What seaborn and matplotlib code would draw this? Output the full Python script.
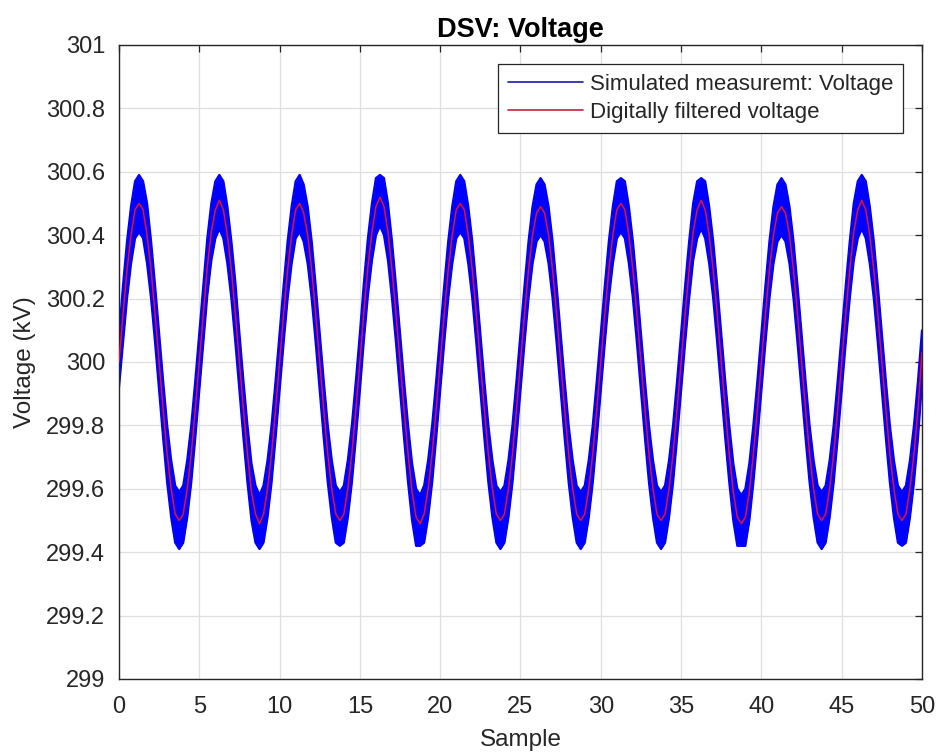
import numpy as np
import matplotlib
matplotlib.use("Agg")
import matplotlib.pyplot as plt
from matplotlib.lines import Line2D
import seaborn as sns

# Sample axis: 0 .. 50 in steps of 0.25
sample = np.linspace(0, 50, 201)

# Digitally filtered voltage (kV), one row per 5-sample period
filtered_voltage = [
    300.00, 300.15, 300.29, 300.40, 300.48, 300.50, 300.48, 300.40, 300.29, 300.15, 300.00, 299.85, 299.71, 299.60, 299.52, 299.50, 299.52, 299.60, 299.71, 299.85,
    300.00, 300.15, 300.30, 300.41, 300.48, 300.51, 300.48, 300.40, 300.29, 300.15, 300.00, 299.85, 299.71, 299.59, 299.52, 299.49, 299.52, 299.60, 299.71, 299.85,
    300.00, 300.15, 300.29, 300.40, 300.48, 300.50, 300.47, 300.40, 300.29, 300.15, 300.00, 299.85, 299.71, 299.60, 299.52, 299.50, 299.52, 299.60, 299.71, 299.85,
    300.00, 300.16, 300.30, 300.41, 300.49, 300.52, 300.49, 300.41, 300.29, 300.15, 300.00, 299.85, 299.71, 299.59, 299.51, 299.49, 299.52, 299.60, 299.71, 299.85,
    300.00, 300.15, 300.29, 300.40, 300.48, 300.50, 300.48, 300.40, 300.29, 300.15, 300.00, 299.85, 299.71, 299.60, 299.52, 299.50, 299.52, 299.60, 299.71, 299.85,
    300.00, 300.15, 300.29, 300.40, 300.47, 300.49, 300.47, 300.40, 300.29, 300.15, 300.00, 299.85, 299.71, 299.60, 299.52, 299.50, 299.52, 299.60, 299.71, 299.85,
    300.00, 300.15, 300.29, 300.40, 300.48, 300.50, 300.48, 300.40, 300.29, 300.15, 300.00, 299.85, 299.71, 299.60, 299.52, 299.50, 299.52, 299.60, 299.71, 299.85,
    300.00, 300.15, 300.29, 300.41, 300.48, 300.51, 300.48, 300.40, 300.29, 300.15, 300.00, 299.85, 299.71, 299.59, 299.51, 299.49, 299.51, 299.59, 299.71, 299.85,
    300.00, 300.15, 300.29, 300.40, 300.47, 300.49, 300.47, 300.40, 300.29, 300.15, 300.00, 299.85, 299.71, 299.60, 299.52, 299.50, 299.52, 299.60, 299.71, 299.85,
    300.00, 300.15, 300.29, 300.41, 300.48, 300.51, 300.48, 300.40, 300.29, 300.15, 300.00, 299.85, 299.71, 299.60, 299.52, 299.50, 299.52, 299.60, 299.71, 299.85,
    300.03,
]

# Upper and lower extent of the noisy simulated measurement (kV)
measured_upper = [
    300.08, 300.24, 300.38, 300.49, 300.57, 300.59, 300.57, 300.50, 300.38, 300.24, 300.09, 299.94, 299.80, 299.69, 299.61, 299.59, 299.61, 299.69, 299.80, 299.94,
    300.09, 300.24, 300.39, 300.50, 300.57, 300.59, 300.57, 300.49, 300.38, 300.25, 300.09, 299.94, 299.80, 299.68, 299.61, 299.58, 299.61, 299.69, 299.80, 299.94,
    300.09, 300.24, 300.38, 300.49, 300.57, 300.59, 300.56, 300.49, 300.38, 300.24, 300.09, 299.94, 299.80, 299.69, 299.61, 299.59, 299.61, 299.69, 299.80, 299.94,
    300.09, 300.25, 300.39, 300.50, 300.58, 300.59, 300.58, 300.50, 300.38, 300.24, 300.09, 299.94, 299.80, 299.68, 299.60, 299.58, 299.61, 299.69, 299.80, 299.94,
    300.09, 300.24, 300.38, 300.49, 300.57, 300.59, 300.57, 300.49, 300.38, 300.24, 300.09, 299.94, 299.80, 299.69, 299.61, 299.59, 299.61, 299.69, 299.80, 299.94,
    300.09, 300.24, 300.38, 300.49, 300.56, 300.58, 300.56, 300.49, 300.38, 300.24, 300.09, 299.94, 299.80, 299.69, 299.61, 299.59, 299.61, 299.69, 299.80, 299.94,
    300.09, 300.24, 300.38, 300.49, 300.57, 300.58, 300.57, 300.49, 300.38, 300.24, 300.09, 299.94, 299.80, 299.69, 299.61, 299.59, 299.61, 299.69, 299.80, 299.94,
    300.09, 300.24, 300.38, 300.50, 300.57, 300.58, 300.57, 300.49, 300.38, 300.24, 300.09, 299.94, 299.80, 299.68, 299.60, 299.58, 299.60, 299.68, 299.80, 299.94,
    300.09, 300.24, 300.38, 300.49, 300.56, 300.58, 300.56, 300.49, 300.38, 300.24, 300.09, 299.94, 299.80, 299.69, 299.61, 299.59, 299.61, 299.69, 299.80, 299.94,
    300.09, 300.24, 300.38, 300.50, 300.57, 300.59, 300.57, 300.49, 300.38, 300.24, 300.09, 299.94, 299.80, 299.69, 299.61, 299.59, 299.61, 299.69, 299.80, 299.94,
    300.10,
]

measured_lower = [
    299.92, 300.06, 300.20, 300.31, 300.39, 300.41, 300.39, 300.31, 300.20, 300.06, 299.91, 299.76, 299.62, 299.51, 299.43, 299.41, 299.43, 299.51, 299.62, 299.76,
    299.91, 300.06, 300.21, 300.32, 300.39, 300.42, 300.39, 300.31, 300.20, 300.06, 299.91, 299.76, 299.62, 299.50, 299.43, 299.41, 299.43, 299.51, 299.62, 299.76,
    299.91, 300.06, 300.20, 300.31, 300.39, 300.41, 300.38, 300.31, 300.20, 300.06, 299.91, 299.76, 299.62, 299.51, 299.43, 299.42, 299.43, 299.51, 299.62, 299.76,
    299.91, 300.07, 300.21, 300.32, 300.40, 300.43, 300.40, 300.32, 300.20, 300.06, 299.91, 299.76, 299.62, 299.50, 299.42, 299.42, 299.43, 299.51, 299.62, 299.76,
    299.91, 300.06, 300.20, 300.31, 300.39, 300.41, 300.39, 300.31, 300.20, 300.06, 299.91, 299.76, 299.62, 299.51, 299.43, 299.41, 299.43, 299.51, 299.62, 299.76,
    299.91, 300.06, 300.20, 300.31, 300.38, 300.40, 300.38, 300.31, 300.20, 300.06, 299.91, 299.76, 299.62, 299.51, 299.43, 299.41, 299.43, 299.51, 299.62, 299.76,
    299.91, 300.06, 300.20, 300.31, 300.39, 300.41, 300.39, 300.31, 300.20, 300.06, 299.91, 299.76, 299.62, 299.51, 299.43, 299.41, 299.43, 299.51, 299.62, 299.76,
    299.91, 300.06, 300.20, 300.32, 300.39, 300.42, 300.39, 300.31, 300.20, 300.06, 299.91, 299.76, 299.62, 299.50, 299.42, 299.42, 299.42, 299.50, 299.62, 299.76,
    299.91, 300.06, 300.20, 300.31, 300.38, 300.40, 300.38, 300.31, 300.20, 300.06, 299.91, 299.76, 299.62, 299.51, 299.43, 299.41, 299.43, 299.51, 299.62, 299.76,
    299.91, 300.06, 300.20, 300.32, 300.39, 300.42, 300.39, 300.31, 300.20, 300.06, 299.91, 299.76, 299.62, 299.51, 299.43, 299.42, 299.43, 299.51, 299.62, 299.76,
    299.94,
]

x_ticks = [0, 5, 10, 15, 20, 25, 30, 35, 40, 45, 50]
y_ticks = [299, 299.2, 299.4, 299.6, 299.8, 300, 300.2, 300.4, 300.6, 300.8, 301]
y_tick_labels = ["299", "299.2", "299.4", "299.6", "299.8", "300",
                 "300.2", "300.4", "300.6", "300.8", "301"]

series_labels = ["Simulated measuremt: Voltage", "Digitally filtered voltage"]

sns.set_style("white")
plt.rcParams["font.family"] = ["Liberation Sans", "DejaVu Sans"]

ink = "#262626"
blue = "#0000ff"
red = "#e8102a"

fig = plt.figure(figsize=(9.39, 7.56), dpi=100)
ax = fig.add_axes([0.1267, 0.1019, 0.8552, 0.8386])

# Noisy measurement drawn as a dense band between its extremes
ax.fill_between(sample, measured_lower, measured_upper, color=blue, linewidth=0, zorder=2)
sns.lineplot(x=sample, y=measured_upper, color=blue, linewidth=1.6, ax=ax, zorder=2)
sns.lineplot(x=sample, y=measured_lower, color=blue, linewidth=1.6, ax=ax, zorder=2)

# Filtered voltage on top
sns.lineplot(x=sample, y=filtered_voltage, color=red, linewidth=1.1, ax=ax, zorder=3)

ax.set_xlim(0, 50)
ax.set_ylim(299, 301)
ax.set_xticks(x_ticks)
ax.set_yticks(y_ticks)
ax.set_yticklabels(y_tick_labels)

ax.grid(True, color="#dfdfdf", linewidth=0.9)
ax.set_axisbelow(True)

for side in ["left", "right", "top", "bottom"]:
    ax.spines[side].set_visible(True)
    ax.spines[side].set_color(ink)
    ax.spines[side].set_linewidth(1.0)

ax.tick_params(axis="both", which="major", direction="in", length=5, width=0.9,
               top=True, right=True, labelsize=17, colors=ink)
ax.tick_params(axis="y", pad=10)
ax.tick_params(axis="x", pad=12)

ax.set_title("DSV: Voltage", fontsize=19.5, fontweight="bold", color="black", pad=6)
ax.set_xlabel("Sample", fontsize=17.5, color=ink, labelpad=8)
ax.set_ylabel("Voltage (kV)", fontsize=17.5, color=ink, labelpad=7)

handles = [Line2D([0], [0], color="#1a1aa8", linewidth=1.2),
           Line2D([0], [0], color="#c8203a", linewidth=1.2)]
leg = ax.legend(handles, series_labels, loc="upper right", fontsize=16,
                frameon=True, fancybox=False, framealpha=1, edgecolor=ink,
                handlelength=3.4, handletextpad=0.3, borderpad=0.45,
                labelspacing=0.3, borderaxespad=0.85)
leg.get_frame().set_linewidth(0.9)
for t in leg.get_texts():
    t.set_color(ink)

fig.savefig("out.png", dpi=100)
